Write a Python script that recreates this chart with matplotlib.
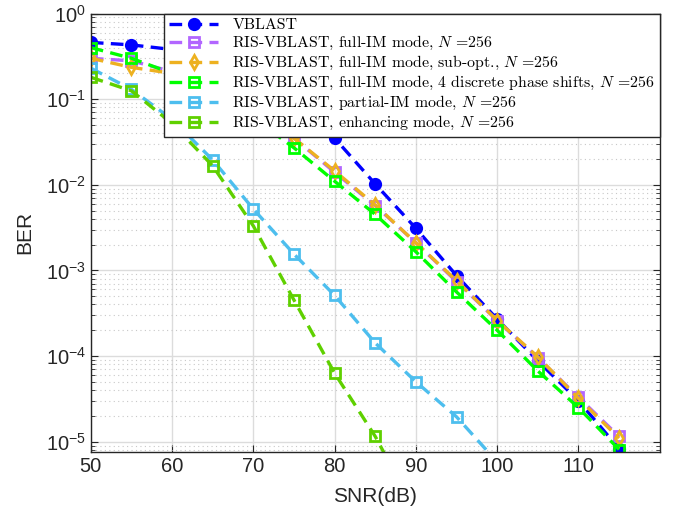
import numpy as np
import matplotlib
matplotlib.use("Agg")
import matplotlib.pyplot as plt
from matplotlib.ticker import LogLocator, NullFormatter, FixedLocator

snr = [50, 55, 60, 65, 70, 75, 80, 85, 90, 95, 100, 105, 110, 115]

ber_vblast = [0.46, 0.43, 0.38, 0.28, 0.17, 0.085, 0.035, 0.0102, 0.0031, 8.7e-4, 2.7e-4, 8.8e-5, 3.0e-5, 8.3e-6]
ber_full = [0.30, 0.28, 0.21, 0.13, 0.07, 0.035, 0.014, 0.0057, 0.0021, 7.4e-4, 2.6e-4, 9.6e-5, 3.3e-5, 1.15e-5]
ber_subopt = [0.30, 0.235, 0.20, 0.13, 0.07, 0.035, 0.0145, 0.0058, 0.0021, 7.6e-4, 2.6e-4, 9.8e-5, 3.2e-5, 1.1e-5]
ber_disc = [0.40, 0.30, 0.20, 0.12, 0.06, 0.027, 0.011, 0.0045, 0.00165, 5.6e-4, 2.0e-4, 6.7e-5, 2.5e-5, 8.1e-6]

snr_partial = [50, 55, 60, 65, 70, 75, 80, 85, 90, 95, 100]
ber_partial = [0.23, 0.13, 0.058, 0.0195, 0.0052, 0.00155, 5.1e-4, 1.42e-4, 5.0e-5, 1.95e-5, 5.8e-6]
snr_enh = [50, 55, 60, 65, 70, 75, 80, 85, 90]
ber_enh = [0.18, 0.125, 0.052, 0.0166, 0.0033, 4.5e-4, 6.3e-5, 1.15e-5, 1.5e-6]

labels = [
    r'VBLAST',
    r'RIS-VBLAST, full-IM mode, $N$ =256',
    r'RIS-VBLAST, full-IM mode, sub-opt., $N$ =256',
    r'RIS-VBLAST, full-IM mode, 4 discrete phase shifts, $N$ =256',
    r'RIS-VBLAST, partial-IM mode, $N$ =256',
    r'RIS-VBLAST, enhancing mode, $N$ =256',
]
colors = ['#0000FF', '#B266FF', '#EDB120', '#00FF00', '#4DBEEE', '#5FD000']

plt.rcParams['font.family'] = ['Liberation Sans', 'DejaVu Sans']
plt.rcParams['mathtext.fontset'] = 'cm'

fig = plt.figure(figsize=(6.78, 5.20), dpi=100)
ax = fig.add_axes([0.134, 0.131, 0.839, 0.843])

lw = 2.4
dash = (3.8, 2.2)
common = dict(lw=lw, dashes=dash, ms=7.5, mew=2.0)
ax.plot(snr, ber_vblast, marker='o', color=colors[0], mfc=colors[0], label=labels[0], **common)
ax.plot(snr, ber_full, marker='s', color=colors[1], mfc='none', label=labels[1], **common)
ax.plot(snr, ber_subopt, marker='d', color=colors[2], mfc='none', label=labels[2], **common)
ax.plot(snr, ber_disc, marker='s', color=colors[3], mfc='none', label=labels[3], **common)
ax.plot(snr_partial, ber_partial, marker='s', color=colors[4], mfc='none', label=labels[4], **common)
ax.plot(snr_enh, ber_enh, marker='s', color=colors[5], mfc='none', label=labels[5], **common)

ax.set_yscale('log')
ax.set_xlim(50, 120)
ax.set_ylim(7.6e-6, 1.0)
ax.set_xticks([50, 60, 70, 80, 90, 100, 110])
ax.set_xticklabels(['50', '60', '70', '80', '90', '100', '110'])
yt = [1e0, 1e-1, 1e-2, 1e-3, 1e-4, 1e-5]
ax.yaxis.set_major_locator(FixedLocator(yt))
ax.set_yticklabels([r'$\mathregular{10^{%d}}$' % e for e in [0, -1, -2, -3, -4, -5]])
ax.yaxis.set_minor_locator(LogLocator(base=10, subs=np.arange(2, 10), numticks=20))
ax.yaxis.set_minor_formatter(NullFormatter())

ax.grid(True, which='major', color='#DCDCDC', lw=1.0, ls='-')
ax.grid(True, which='minor', axis='y', color='#C8C8C8', lw=0.8, ls=(0, (1, 3)))
ax.set_axisbelow(True)

ax.tick_params(which='both', direction='in', top=True, right=True, colors='#262626', labelsize=14.5, labelcolor='#262626')
ax.tick_params(which='major', length=5)
ax.tick_params(which='minor', length=3)
for s in ax.spines.values():
    s.set_color('#262626')
    s.set_linewidth(1.0)

ax.set_xlabel('SNR(dB)', fontsize=15, color='#262626', labelpad=8)
ax.set_ylabel('BER', fontsize=15, color='#262626', labelpad=8)

leg = ax.legend(loc='upper right', prop={'family': 'cmr10', 'size': 11.4},
                handlelength=3.1, handletextpad=0.9, labelspacing=0.12,
                borderaxespad=0.0, borderpad=0.3, fancybox=False, framealpha=1,
                edgecolor='#262626')
leg.get_frame().set_linewidth(1.0)

fig.savefig('out.png', dpi=100)
